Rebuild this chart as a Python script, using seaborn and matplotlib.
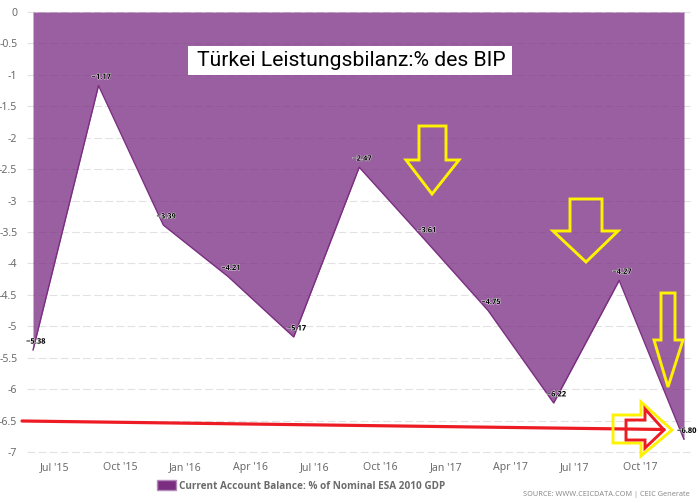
import matplotlib
matplotlib.use('Agg')
import matplotlib.dates as mdates
import matplotlib.patheffects as pe
import matplotlib.pyplot as plt
import matplotlib.transforms as mtransforms
from matplotlib.patches import Patch, Polygon, Rectangle
import pandas as pd
import seaborn as sns

# values
dates = ['2015-06-01', '2015-09-01', '2015-12-01', '2016-03-01', '2016-06-01', '2016-09-01',
         '2016-12-01', '2017-03-01', '2017-06-01', '2017-09-01', '2017-12-01']
balance = [-5.38, -1.17, -3.39, -4.21, -5.17, -2.47, -3.61, -4.75, -6.22, -4.27, -6.80]
point_labels = ['−5.38', '−1.17', '−3.39', '−4.21', '−5.17', '−2.47', '−3.61', '−4.75', '−6.22', '−4.27', '−6.80']
y_ticks = [0, -0.5, -1, -1.5, -2, -2.5, -3, -3.5, -4, -4.5, -5, -5.5, -6, -6.5, -7]
y_tick_labels = ['0', '-0.5', '-1', '-1.5', '-2', '-2.5', '-3', '-3.5', '-4', '-4.5', '-5', '-5.5', '-6', '-6.5', '-7']
x_ticks = ['2015-07-01', '2015-10-01', '2016-01-01', '2016-04-01', '2016-07-01', '2016-10-01',
           '2017-01-01', '2017-04-01', '2017-07-01', '2017-10-01']

PURPLE = '#7b2d82'
YELLOW = '#fff200'
RED = '#ed1c24'
GREY = '#6b6b6b'
W, H = 698, 503

sns.set_theme(style='white')
plt.rcParams['font.family'] = ['Noto Sans', 'DejaVu Sans']

df = pd.DataFrame({'date': pd.to_datetime(dates), 'balance': balance})

fig = plt.figure(figsize=(W / 100, H / 100), dpi=100)
ax = fig.add_axes([27 / W, 1 - 452 / H, (690 - 27) / W, (452 - 12) / H])

# transform for the hand drawn overlays, in image pixels
px = mtransforms.Affine2D().scale(1 / W, -1 / H).translate(0, 1) + fig.transFigure

ax.fill_between(df['date'], df['balance'], 0, color=PURPLE, alpha=0.76, lw=0, zorder=2)
sns.lineplot(data=df, x='date', y='balance', color=PURPLE, lw=1.0, ax=ax, zorder=3)

ax.set_ylim(-7, 0)
ax.margins(x=6 / 651)
ax.set_xlabel('')
ax.set_ylabel('')
ax.set_yticks(y_ticks)
ax.set_yticklabels(y_tick_labels)
ax.set_xticks(pd.to_datetime(x_ticks))
ax.xaxis.set_major_formatter(mdates.DateFormatter("%b '%y"))
ax.grid(axis='y', color='#e2e2e2', ls=(0, (7, 3)), lw=0.8, zorder=1)
for gl in ax.get_ygridlines():
    gl.set_clip_on(False)
ax.tick_params(axis='y', length=0, pad=7, labelsize=7.6, labelcolor=GREY)
ax.tick_params(axis='x', length=0, pad=7, labelsize=7.6, labelcolor=GREY)
sns.despine(ax=ax, left=True, bottom=True, top=True, right=True)

for d, v, lab in zip(df['date'], balance, point_labels):
    t = ax.annotate(lab, (d, v), xytext=(2, 5.8), textcoords='offset points', ha='center', va='center',
                    fontsize=5.4, fontweight='bold', family='Open Sans', color='black', zorder=5,
                    annotation_clip=False)
    t.set_path_effects([pe.withStroke(linewidth=0.6, foreground='white')])

# red trend line and arrows added on top of the screenshot
fig.add_artist(plt.Line2D([22, 664], [421, 429.5], color=RED, lw=2.3, transform=px, zorder=6))


def arrow(points, color, lw=2.1):
    fig.add_artist(Polygon(points, closed=True, fill=False, edgecolor=color, lw=lw, transform=px, zorder=7))


arrow([(419, 126), (446, 126), (446, 160), (459, 160), (432, 194), (406, 160), (419, 160)], YELLOW)
arrow([(570, 199), (602, 199), (602, 231), (618, 231), (586, 262), (553, 231), (570, 231)], YELLOW)
arrow([(661, 293), (675, 293), (675, 340), (683, 340), (668, 387), (654, 340), (661, 340)], YELLOW)
arrow([(613, 415), (641, 415), (641, 402), (672, 430), (641, 456), (641, 443), (613, 443)], YELLOW)
arrow([(626, 420), (645, 420), (645, 409), (664, 430), (645, 448), (645, 440), (626, 440)], RED)

# title box
fig.add_artist(Rectangle((188, 46), 324, 29, facecolor='white', edgecolor='none', transform=px, zorder=8))
fig.text(351 / W, 1 - 60 / H, 'Türkei Leistungsbilanz:% des BIP', ha='center', va='center',
         fontsize=15.2, family='Roboto', color='black', zorder=9)

# legend
fig.legend(handles=[Patch(facecolor=PURPLE, edgecolor='#b48ab8', label='Current Account Balance: % of Nominal ESA 2010 GDP')],
           loc='center', bbox_to_anchor=(301 / W, 1 - 486 / H), frameon=False, handlelength=1.9, handleheight=1.15,
           handletextpad=0.35, prop={'size': 7.2, 'weight': 'bold', 'family': 'Open Sans'}, labelcolor=GREY)
fig.text(690 / W, 1 - 494 / H, 'SOURCE: WWW.CEICDATA.COM | CEIC Generate', ha='right', va='center',
         fontsize=5.3, color='#8c8c8c')

fig.savefig('out.png', dpi=100)
